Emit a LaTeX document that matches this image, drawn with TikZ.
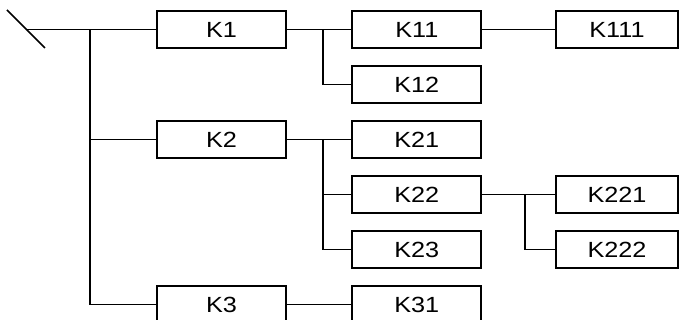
\documentclass[tikz,border=0pt]{standalone}
\usepackage{fontspec}
\setmainfont[FakeStretch=1.15]{Liberation Sans}
\tikzset{
  relais/.style={draw,line width=1pt,minimum width=2.58cm,minimum height=0.74cm,
    inner sep=0pt,font=\fontsize{12.5}{14}\selectfont},
  relaisbord/.style={relais,minimum width=2.44cm},
}
\begin{document}
\begin{tikzpicture}[x=0.02cm,y=-0.02cm,line width=1pt]
        \useasboundingbox (0,0) rectangle (679,320) ;
        %\draw[very thin,gray,step=10] (0,0) grid (679,320) ;
        % premier niveau
        \node[relais] (K1) at (221.5,29.5) {K1} ;
        \node[relais] (K2) at (221.5,139.5) {K2} ;
        \node[relais] (K3) at (221.5,304.5) {K3} ;
        % second niveau
        \node[relais] (K11) at (416.8,29.5) {K11} ;
        \node[relais] (K12) at (416.8,84.5) {K12} ;
        \node[relais] (K21) at (416.8,139.5) {K21} ;
        \node[relais] (K22) at (416.8,194.5) {K22} ;
        \node[relais] (K23) at (416.8,249.5) {K23} ;
        \node[relais] (K31) at (416.8,304.5) {K31} ;
        % troisieme niveau
        \node[relaisbord] (K111) at (617,29.5) {K111} ;
        \node[relaisbord] (K221) at (617,194.5) {K221} ;
        \node[relaisbord] (K222) at (617,249.5) {K222} ;
        % interrupteur
        \coordinate (inter1) at (7,10) ;
        \coordinate (inter2) at (45,48) ;
        \coordinate (depart) at (26.5,29.5) ;
        \draw (inter1) -- (inter2) ;
        \draw (depart) -- (K1.west) ;
        % barres
        \coordinate (barre) at (90,29.5) ;
        \coordinate (barreK1) at (323,29.5) ;
        \coordinate (barreK2) at (323,139.5) ;
        \coordinate (barreK22) at (525,194.5) ;
        \draw (barre) |- (K2.west) ;
        \draw (barre) |- (K3.west) ;
        \draw (K1.east) -- (K11.west) ;
        \draw (barreK1) |- (K12.west) ;
        \draw (K11.east) -- (K111.west) ;
        \draw (K2.east) -- (K21.west) ;
        \draw (barreK2) |- (K22.west) ;
        \draw (barreK2) |- (K23.west) ;
        \draw (K22.east) -- (K221.west) ;
        \draw (barreK22) |- (K222.west) ;
        \draw (K3.east) -- (K31.west) ;
      \end{tikzpicture}
\end{document}
